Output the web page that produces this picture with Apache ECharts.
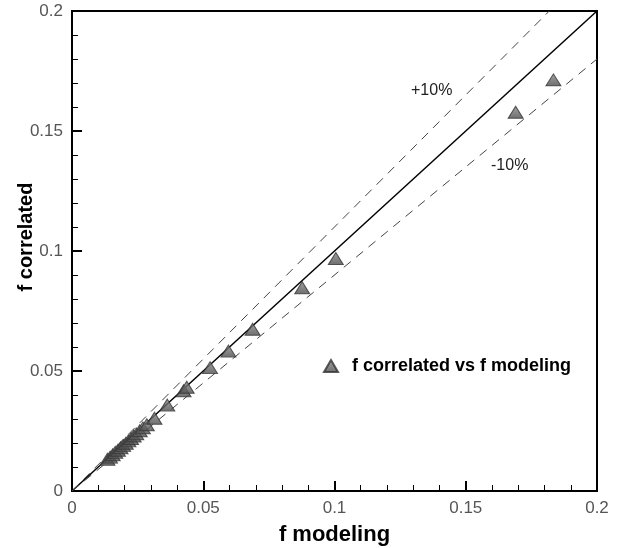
<!DOCTYPE html>
<html>
<head>
<meta charset="utf-8">
<script src="https://cdn.jsdelivr.net/npm/echarts@6/dist/echarts.min.js"></script>
<style>
  html, body { margin: 0; padding: 0; background: #fff; }
  #chart { width: 620px; height: 548px; }
</style>
</head>
<body>
<div id="chart"></div>
<script>
// f modeling vs f correlated
const fModeling = [0.0135, 0.0145, 0.0155, 0.0165, 0.0175, 0.0185, 0.0195, 0.0205, 0.0215, 0.0225,
  0.0235, 0.0245, 0.0258, 0.027, 0.0285, 0.0314, 0.0363, 0.0425, 0.0437, 0.0526, 0.0596, 0.0688,
  0.0877, 0.1005, 0.169, 0.1834];
const fCorrelated = [0.0132, 0.0141, 0.0151, 0.0161, 0.017, 0.018, 0.019, 0.0199, 0.0209, 0.0219,
  0.0229, 0.0238, 0.0251, 0.0263, 0.0276, 0.0303, 0.0358, 0.0418, 0.0432, 0.0514, 0.0583, 0.0674,
  0.0847, 0.0969, 0.1578, 0.1713];

// reference lines y = k * x
const parityRatio = 1.0;
const bandRatios = [1.1, 0.9];
const bandLabels = ['+10%', '-10%'];
const axisMax = 0.2;
const tickStep = 0.05;

function ratioLine(k) {
  // end where the line leaves the square plot
  const xEnd = Math.min(axisMax, axisMax / k);
  return [[0, 0], [xEnd, k * xEnd]];
}

const chart = echarts.init(document.getElementById('chart'));
const font = 'Arial, "Liberation Sans", sans-serif';

const axisCommon = {
  type: 'value',
  min: 0,
  max: axisMax,
  interval: tickStep,
  axisLine: { show: true, lineStyle: { color: '#000', width: 2 } },
  axisTick: { show: true, inside: true, length: 10, lineStyle: { color: '#000', width: 2 } },
  minorTick: { show: true, splitNumber: 5, length: 6, lineStyle: { color: '#000', width: 1 } },
  splitLine: { show: false },
  axisLabel: { color: '#555', fontFamily: font, fontSize: 17, margin: 9 },
  nameLocation: 'middle',
  nameMoveOverlap: false
};

const markerStyle = {
  color: new echarts.graphic.LinearGradient(0, 0, 0, 1, [
    { offset: 0, color: '#8a8a8a' },
    { offset: 1, color: '#4a4a4a' }
  ]),
  borderColor: '#333',
  borderWidth: 1
};

chart.setOption({
  animation: false,
  backgroundColor: '#fff',
  grid: {
    left: 72, top: 11, right: 23, bottom: 57,
    containLabel: false, outerBoundsMode: 'none',
    show: true, borderColor: '#000', borderWidth: 2, backgroundColor: 'transparent'
  },
  xAxis: Object.assign({}, axisCommon, {
    name: 'f modeling', nameGap: 33,
    nameTextStyle: { color: '#000', fontFamily: font, fontSize: 22, fontWeight: 'bold' }
  }),
  yAxis: Object.assign({}, axisCommon, {
    name: 'f correlated', nameGap: 36,
    nameTextStyle: { color: '#000', fontFamily: font, fontSize: 20, fontWeight: 'bold', padding: [0, 0, 0, 28] }
  }),
  legend: {
    left: 318, top: 352,
    itemWidth: 14, itemHeight: 12, itemGap: 8,
    data: [{ name: 'f correlated vs f modeling', icon: 'triangle' }],
    textStyle: { color: '#000', fontFamily: font, fontSize: 18, fontWeight: 'bold', padding: [0, 0, 0, 9] }
  },
  series: [
    {
      type: 'line', name: 'parity', data: ratioLine(parityRatio), symbol: 'none',
      lineStyle: { color: '#000', width: 1.5 }, silent: true, z: 2
    },
    {
      type: 'line', name: bandLabels[0], data: ratioLine(bandRatios[0]), symbol: 'none',
      lineStyle: { color: '#444', width: 1, type: [9, 7] }, silent: true, z: 2
    },
    {
      type: 'line', name: bandLabels[1], data: ratioLine(bandRatios[1]), symbol: 'none',
      lineStyle: { color: '#444', width: 1, type: [9, 7] }, silent: true, z: 2
    },
    {
      type: 'scatter', name: 'f correlated vs f modeling',
      data: fModeling.map((x, i) => [x, fCorrelated[i]]),
      symbol: 'triangle', symbolSize: [15, 12],
      itemStyle: markerStyle, z: 3
    }
  ],
  graphic: [
    { type: 'text', left: 411, top: 83, style: { text: bandLabels[0], font: '16px ' + font, fill: '#222' } },
    { type: 'text', left: 491, top: 158, style: { text: bandLabels[1], font: '16px ' + font, fill: '#222' } }
  ]
});
</script>
</body>
</html>
